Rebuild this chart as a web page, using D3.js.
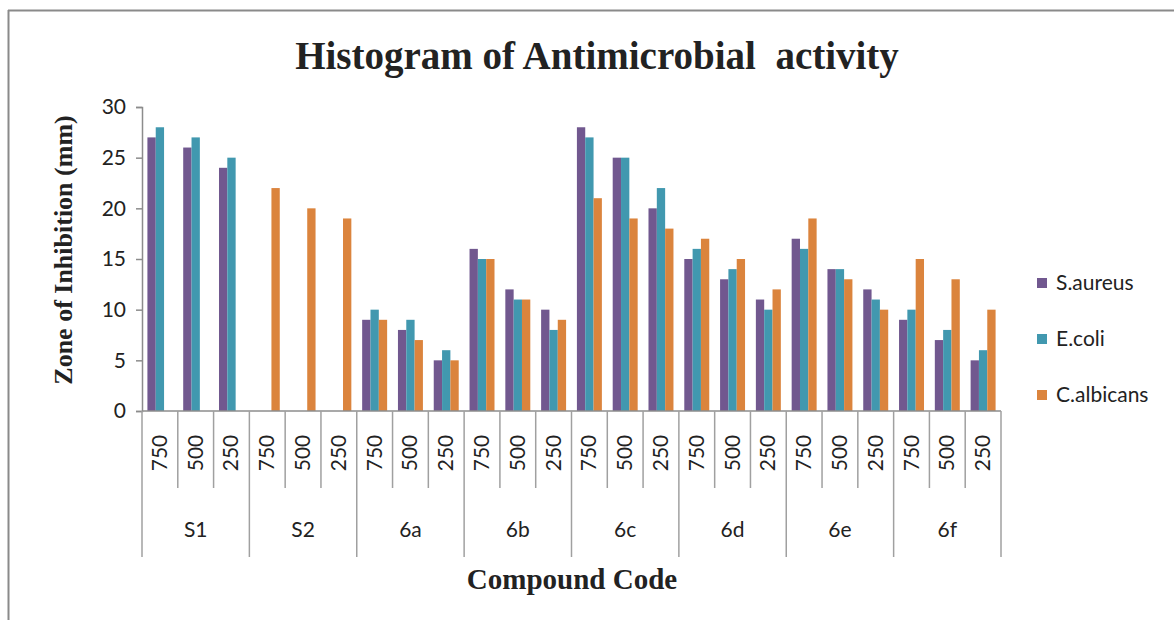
<!DOCTYPE html>
<html lang="en">
<head>
<meta charset="UTF-8">
<title>Histogram of Antimicrobial activity</title>
<style>
  body { margin: 0; background: #fff; }
  text { fill: #222; }
</style>
</head>
<body>
<svg width="1174" height="620"></svg>
<script src="https://cdn.jsdelivr.net/npm/d3@7"></script>
<script>
// data
var groups = ["S1", "S2", "6a", "6b", "6c", "6d", "6e", "6f"];
var doses = ["750", "500", "250"];
var seriesNames = ["S.aureus", "E.coli", "C.albicans"];
var saureus   = [27, 26, 24,  0,  0,  0,  9,  8, 5, 16, 12, 10, 28, 25, 20, 15, 13, 11, 17, 14, 12,  9,  7,  5];
var ecoli     = [28, 27, 25,  0,  0,  0, 10,  9, 6, 15, 11,  8, 27, 25, 22, 16, 14, 10, 16, 14, 11, 10,  8,  6];
var calbicans = [ 0,  0,  0, 22, 20, 19,  9,  7, 5, 15, 11,  9, 21, 19, 18, 17, 15, 12, 19, 13, 10, 15, 13, 10];
var yTicks = [0, 5, 10, 15, 20, 25, 30];

var colors = ["#71588F", "#4198AF", "#DB843D"];
var values = [saureus, ecoli, calbicans];
var sans = "Lato, 'Open Sans', sans-serif";
var serif = "'Liberation Serif', 'Times New Roman', serif";

var svg = d3.select("svg");

// frame (top and left edges only, as in the picture)
svg.append("line").attr("x1", 8).attr("x2", 1174).attr("y1", 10.5).attr("y2", 10.5)
  .attr("stroke", "#8a8a8a").attr("stroke-width", 2);
svg.append("line").attr("x1", 8.5).attr("x2", 8.5).attr("y1", 10).attr("y2", 620)
  .attr("stroke", "#8a8a8a").attr("stroke-width", 2);

var plotLeft = 142, plotRight = 1001, plotTop = 107, plotBase = 411;

var cats = [];
groups.forEach(function (g) { doses.forEach(function (d) { cats.push(g + "|" + d); }); });

var x = d3.scaleBand().domain(cats).range([plotLeft, plotRight]);
var xs = d3.scaleBand().domain(seriesNames).range([0, x.bandwidth()]).paddingOuter(0.65);
var y = d3.scaleLinear().domain([0, 30]).range([plotBase, plotTop]);

// bars
seriesNames.forEach(function (s, si) {
  svg.append("g").selectAll("rect")
    .data(values[si])
    .join("rect")
    .attr("x", function (d, i) { return x(cats[i]) + xs(s); })
    .attr("width", xs.bandwidth())
    .attr("y", function (d) { return y(d); })
    .attr("height", function (d) { return plotBase - y(d); })
    .attr("fill", colors[si]);
});

// y axis
var yAxis = svg.append("g")
  .attr("transform", "translate(" + plotLeft + ",0)")
  .call(d3.axisLeft(y).tickValues(yTicks).tickSize(6).tickPadding(10));
yAxis.select(".domain").attr("stroke", "#8c8c8c").attr("stroke-width", 1.5);
yAxis.selectAll(".tick line").attr("stroke", "#8c8c8c").attr("stroke-width", 1.5);
yAxis.selectAll(".tick text")
  .attr("font-family", sans)
  .attr("font-size", 21).attr("fill", "#222");

// x axis line
svg.append("line").attr("x1", plotLeft).attr("x2", plotRight).attr("y1", plotBase).attr("y2", plotBase)
  .attr("stroke", "#8c8c8c").attr("stroke-width", 1.5);

// dose separators and labels
var xa = svg.append("g");
cats.forEach(function (c, i) {
  var x0 = x(c);
  var isGroupEdge = i % doses.length === 0;
  xa.append("line").attr("x1", x0).attr("x2", x0).attr("y1", plotBase)
    .attr("y2", isGroupEdge ? 557 : 488)
    .attr("stroke", "#a0a0a0").attr("stroke-width", 1.5);
  xa.append("text")
    .attr("transform", "translate(" + (x0 + x.bandwidth() / 2 + 7) + ",453) rotate(-90)")
    .attr("text-anchor", "middle")
    .attr("font-family", sans)
    .attr("font-size", 21)
    .text(c.split("|")[1]);
});
xa.append("line").attr("x1", plotRight).attr("x2", plotRight).attr("y1", plotBase).attr("y2", 557)
  .attr("stroke", "#a0a0a0").attr("stroke-width", 1.5);

// group labels
groups.forEach(function (g) {
  var a = x(g + "|" + doses[0]), b = x(g + "|" + doses[doses.length - 1]) + x.bandwidth();
  xa.append("text")
    .attr("x", (a + b) / 2).attr("y", 537)
    .attr("text-anchor", "middle")
    .attr("font-family", sans)
    .attr("font-size", 21)
    .text(g);
});

// titles
svg.append("text").attr("x", 597).attr("y", 69).attr("text-anchor", "middle")
  .attr("font-family", serif)
  .attr("font-weight", "bold").attr("font-size", 39)
  .style("white-space", "pre")
  .text("Histogram of Antimicrobial  activity");

svg.append("text")
  .attr("transform", "translate(72,250) rotate(-90)")
  .attr("text-anchor", "middle")
  .attr("font-family", serif)
  .attr("font-weight", "bold").attr("font-size", 26)
  .text("Zone of Inhibition (mm)");

svg.append("text").attr("x", 572).attr("y", 589).attr("text-anchor", "middle")
  .attr("font-family", serif)
  .attr("font-weight", "bold").attr("font-size", 29)
  .text("Compound Code");

// legend
var legend = svg.append("g");
seriesNames.forEach(function (s, i) {
  var ly = 283 + i * 56;
  legend.append("rect").attr("x", 1037).attr("y", ly - 5).attr("width", 10).attr("height", 10)
    .attr("fill", colors[i]);
  legend.append("text").attr("x", 1056).attr("y", ly + 7)
    .attr("font-family", sans)
    .attr("font-size", 21)
    .text(s);
});
</script>
</body>
</html>
